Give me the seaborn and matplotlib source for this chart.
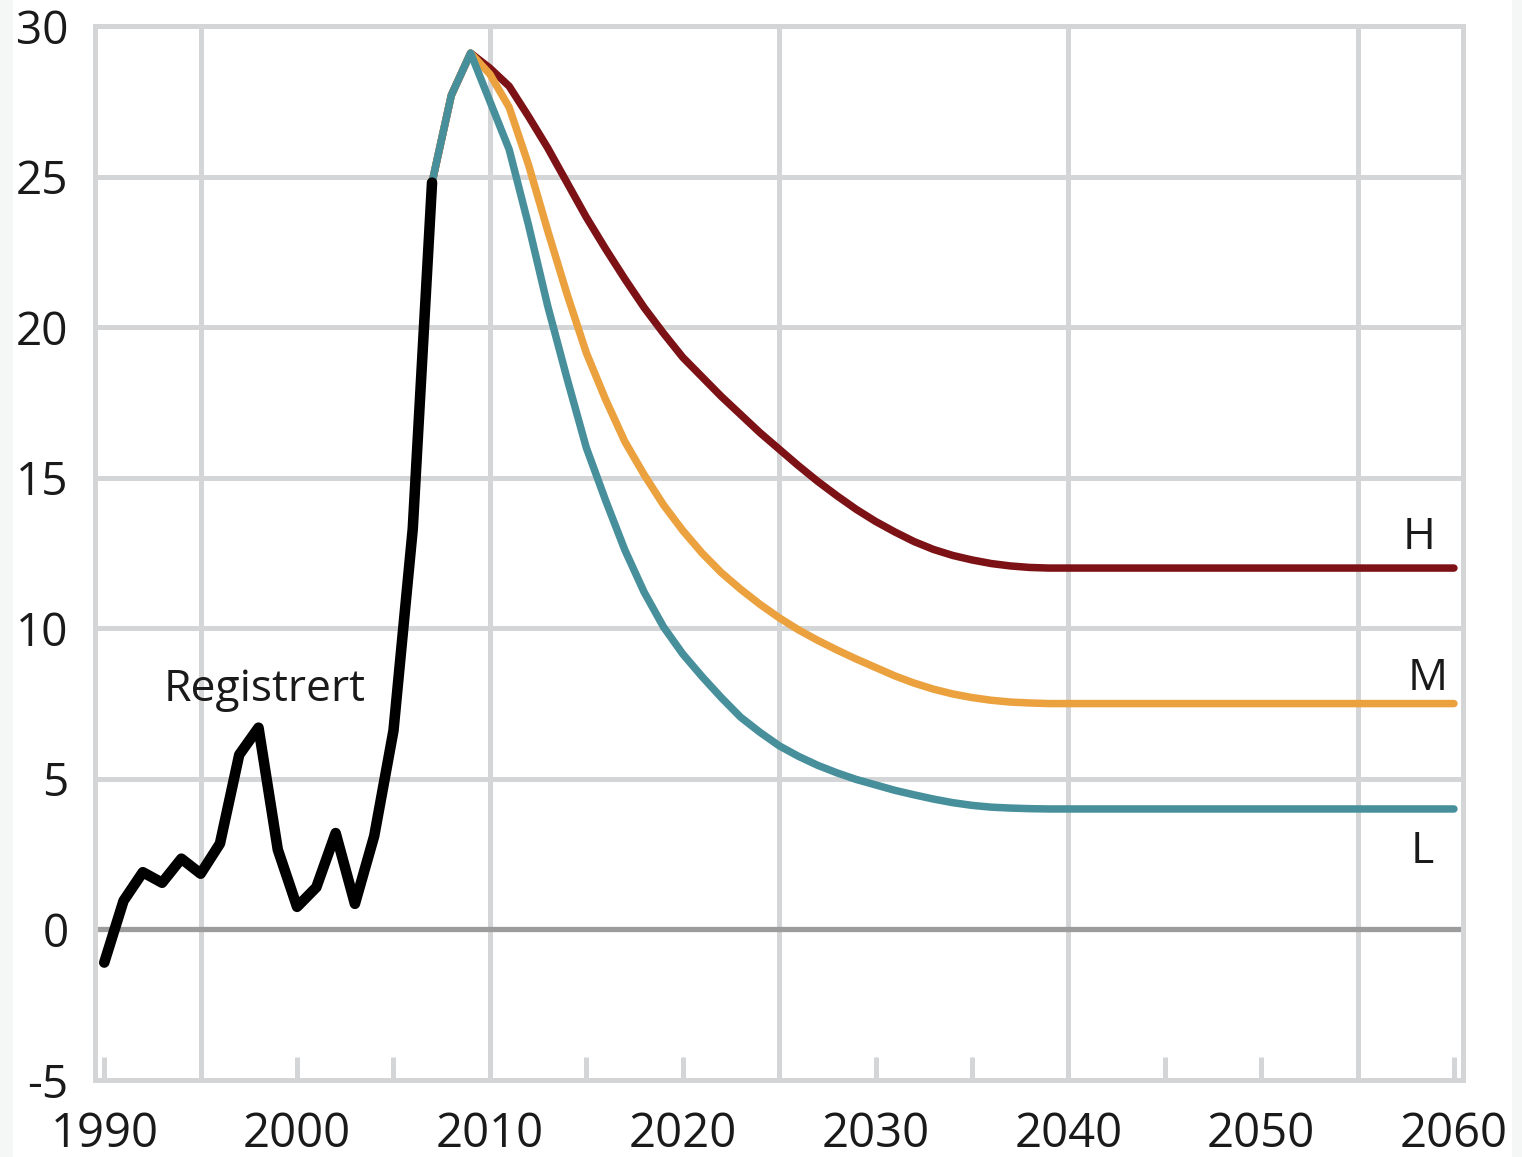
import matplotlib
matplotlib.use("Agg")
import matplotlib.pyplot as plt
from matplotlib.patches import Rectangle
from matplotlib.ticker import FixedLocator, FuncFormatter
import seaborn as sns
import pandas as pd

# ---------------- data ----------------
reg_years = [1990, 1991, 1992, 1993, 1994, 1995, 1996, 1997, 1998, 1999,
             2000, 2001, 2002, 2003, 2004, 2005, 2006, 2007]
registrert = [-1.1, 0.95, 1.9, 1.55, 2.35, 1.85, 2.85, 5.8, 6.7, 2.65,
              0.75, 1.4, 3.2, 0.85, 3.1, 6.6, 13.3, 24.8]

proj_years = list(range(2007, 2061))
high = [24.8, 27.7, 29.1, 28.6, 28.0, 27.0, 25.95, 24.8, 23.65, 22.6,
        21.6, 20.65, 19.8, 19.0, 18.35, 17.7, 17.1, 16.5, 15.95, 15.4,
        14.88, 14.4, 13.95, 13.55, 13.2, 12.88, 12.62, 12.42, 12.27, 12.15,
        12.07, 12.02, 12.0, 12.0, 12.0, 12.0, 12.0, 12.0, 12.0, 12.0,
        12.0, 12.0, 12.0, 12.0, 12.0, 12.0, 12.0, 12.0, 12.0, 12.0,
        12.0, 12.0, 12.0, 12.0]
medium = [24.8, 27.7, 29.1, 28.4, 27.3, 25.4, 23.2, 21.1, 19.15, 17.6,
          16.2, 15.1, 14.1, 13.25, 12.5, 11.85, 11.3, 10.8, 10.35, 9.95,
          9.6, 9.28, 8.98, 8.7, 8.42, 8.18, 7.98, 7.82, 7.7, 7.61,
          7.55, 7.52, 7.5, 7.5, 7.5, 7.5, 7.5, 7.5, 7.5, 7.5,
          7.5, 7.5, 7.5, 7.5, 7.5, 7.5, 7.5, 7.5, 7.5, 7.5,
          7.5, 7.5, 7.5, 7.5]
low = [24.8, 27.7, 29.1, 27.5, 25.9, 23.4, 20.7, 18.3, 16.0, 14.25,
       12.6, 11.2, 10.05, 9.15, 8.4, 7.7, 7.05, 6.55, 6.1, 5.75,
       5.45, 5.2, 4.98, 4.8, 4.62, 4.47, 4.33, 4.21, 4.12, 4.06,
       4.03, 4.01, 4.0, 4.0, 4.0, 4.0, 4.0, 4.0, 4.0, 4.0,
       4.0, 4.0, 4.0, 4.0, 4.0, 4.0, 4.0, 4.0, 4.0, 4.0,
       4.0, 4.0, 4.0, 4.0]

y_ticks = [-5, 0, 5, 10, 15, 20, 25, 30]
x_ticks = list(range(1990, 2061, 5))
x_labels = [1990, 2000, 2010, 2020, 2030, 2040, 2050, 2060]
grid_years = [1995, 2010, 2025, 2040, 2055]

# ---------------- style ----------------
sns.set_theme(style="white")
plt.rcParams["font.family"] = ["Open Sans", "DejaVu Sans"]

GRID = "#d3d5d6"
ZERO = "#9c9c9c"
C_H = "#7c1215"
C_M = "#eca13f"
C_L = "#47909b"
TXT = "#1a1a1a"

W, H = 1522, 1157
fig = plt.figure(figsize=(W / 100, H / 100), dpi=100)
fig.patch.set_facecolor("white")
fig.patches.append(Rectangle((0, 0), 13 / W, 1, transform=fig.transFigure,
                             facecolor="#f5f7f7", edgecolor="none", zorder=-5))
fig.patches.append(Rectangle((1512 / W, 0), 10 / W, 1, transform=fig.transFigure,
                             facecolor="#f5f7f7", edgecolor="none", zorder=-5))

ax = fig.add_axes([95 / W, 1 - 1080 / H, (1463 - 95) / W, (1080 - 26) / H])
ax.set_facecolor("white")

# grid
for yv in y_ticks[1:-1]:
    if yv != 0:
        ax.axhline(yv, color=GRID, lw=3.6, zorder=1)
for xv in grid_years:
    ax.axvline(xv, color=GRID, lw=3.6, zorder=1)
ax.axhline(0, color=ZERO, lw=3.8, zorder=1.5)

# lines
df_h = pd.DataFrame({"year": proj_years, "value": high})
df_m = pd.DataFrame({"year": proj_years, "value": medium})
df_l = pd.DataFrame({"year": proj_years, "value": low})
df_r = pd.DataFrame({"year": reg_years, "value": registrert})

sns.lineplot(data=df_h, x="year", y="value", color=C_H, lw=5.4, ax=ax,
             solid_capstyle="round", zorder=3)
sns.lineplot(data=df_m, x="year", y="value", color=C_M, lw=5.4, ax=ax,
             solid_capstyle="round", zorder=4)
sns.lineplot(data=df_l, x="year", y="value", color=C_L, lw=5.4, ax=ax,
             solid_capstyle="round", zorder=5)
sns.lineplot(data=df_r, x="year", y="value", color="black", lw=7.6, ax=ax,
             solid_capstyle="round", zorder=6)

# axes
ax.set_xlim(1989.52, 2060.47)
ax.set_ylim(-5, 30)
ax.set_xlabel("")
ax.set_ylabel("")

ax.xaxis.set_major_locator(FixedLocator(x_ticks))
ax.xaxis.set_major_formatter(FuncFormatter(
    lambda v, p: str(int(round(v))) if int(round(v)) in x_labels else ""))
ax.set_yticks(y_ticks)
ax.set_yticklabels([str(v) for v in y_ticks])

ax.tick_params(axis="x", direction="in", length=16.5, width=3.6, color=GRID,
               labelsize=34, labelcolor=TXT, pad=22, bottom=True)
ax.tick_params(axis="y", length=0, labelsize=33, labelcolor=TXT, pad=19, left=True)

for s in ax.spines.values():
    s.set_visible(True)
    s.set_color(GRID)
    s.set_linewidth(3.6)
    s.set_zorder(2)

# labels
ax.text(1998.33, 7.6, "Registrert", fontsize=32, color=TXT, ha="center", va="baseline", zorder=7)
ax.text(2058.18, 12.63, "H", fontsize=32, color=TXT, ha="center", va="baseline", zorder=7)
ax.text(2058.62, 7.95, "M", fontsize=32, color=TXT, ha="center", va="baseline", zorder=7)
ax.text(2058.38, 2.21, "L", fontsize=32, color=TXT, ha="center", va="baseline", zorder=7)

fig.savefig("out.png", dpi=100, facecolor=fig.get_facecolor())
